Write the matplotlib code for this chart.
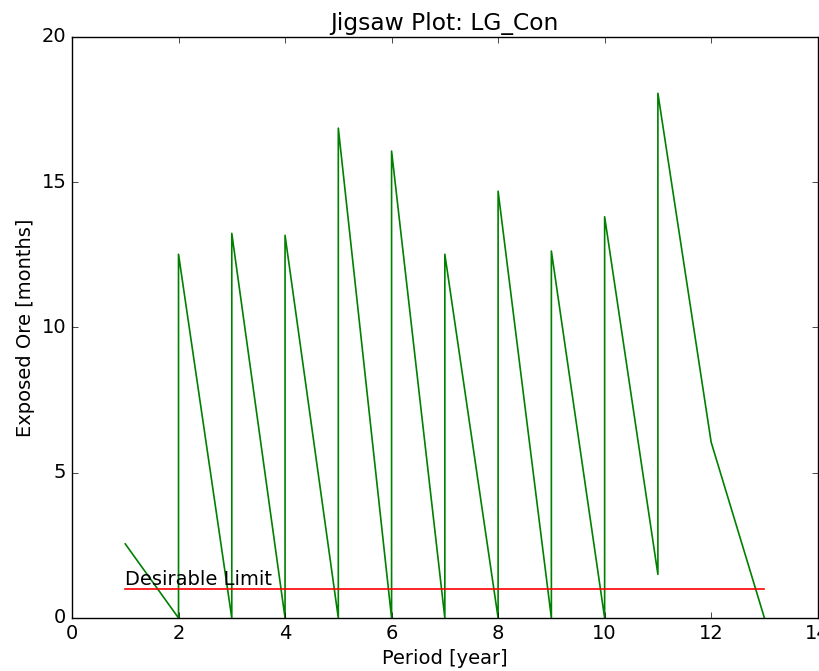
import matplotlib
matplotlib.use('Agg')
import matplotlib.pyplot as plt

plt.style.use('classic')

# jigsaw points (vertical jumps at each period)
period = [1, 2, 2, 3, 3, 4, 4, 5, 5, 6, 6, 7, 7, 8, 8, 9, 9, 10, 10, 11, 11, 12, 13]
exposed = [2.55, 0.0, 12.52, 0.0, 13.24, 0.0, 13.17, 0.0, 16.86, 0.0, 16.07, 0.0,
           12.52, 0.0, 14.69, 0.0, 12.63, 0.0, 13.81, 1.5, 18.06, 6.05, 0.0]

limit_x = [1, 13]
limit_y = [1, 1]

fig = plt.figure(figsize=(8.19, 6.71), dpi=100, facecolor='white')
ax = fig.add_axes([0.0879, 0.079, 0.9105, 0.866])

ax.plot(period, exposed, 'g-', linewidth=1.2)
ax.plot(limit_x, limit_y, 'r-', linewidth=1.2)
ax.text(1, 1, 'Desirable Limit', fontsize=14, ha='left', va='bottom')

ax.set_xlim(0, 14)
ax.set_ylim(0, 20)
ax.set_xticks(range(0, 15, 2))
ax.set_yticks(range(0, 21, 5))
ax.tick_params(labelsize=14)
ax.set_title('Jigsaw Plot: LG_Con', fontsize=16.8)
ax.set_xlabel('Period [year]', fontsize=14)
ax.set_ylabel('Exposed Ore [months]', fontsize=14)

fig.savefig('out.png', dpi=100, facecolor='white')
